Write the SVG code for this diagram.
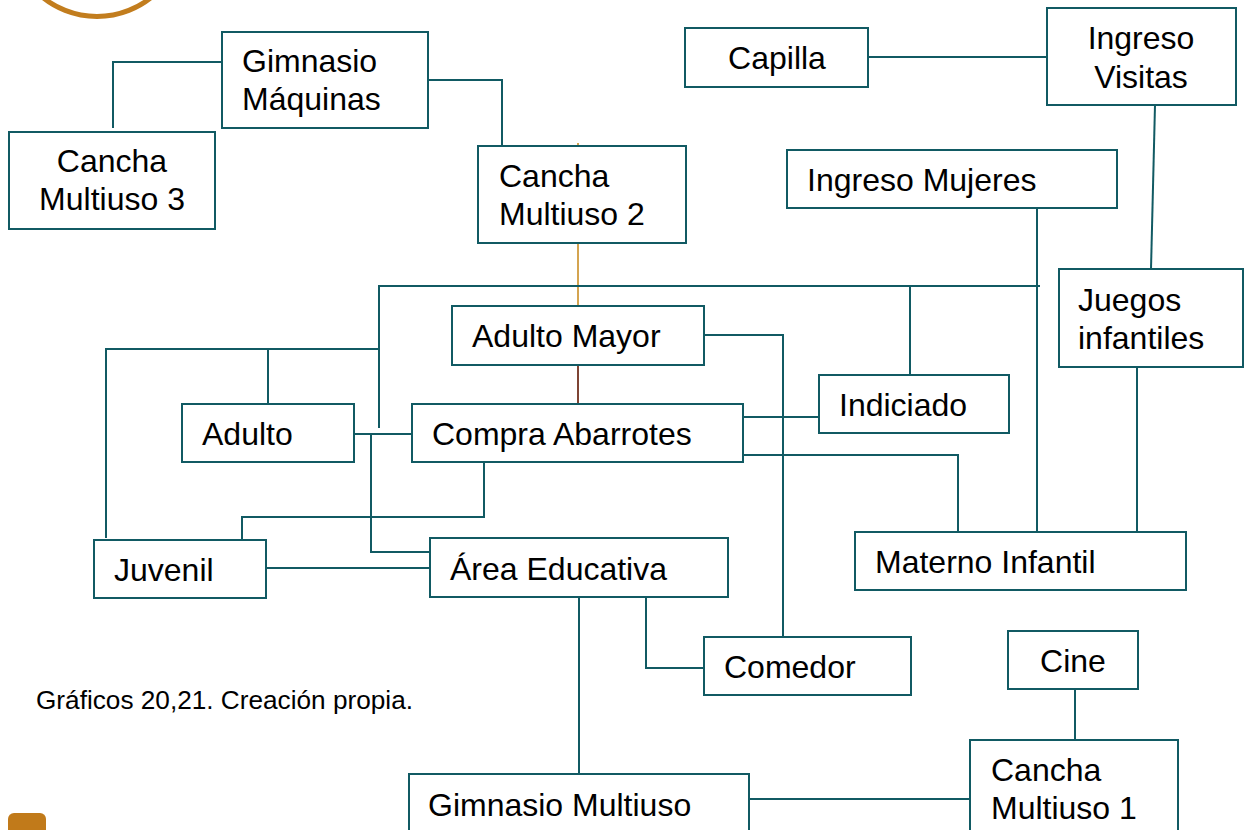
<svg xmlns="http://www.w3.org/2000/svg" width="1251" height="830" viewBox="0 0 1251 830">
<style>
.n rect{fill:#fff;stroke:#115A63;stroke-width:2}
.n text,.cap{font-family:"Liberation Sans",Arial,sans-serif;fill:#000}
.n text{font-size:32px}
.c path{fill:none;stroke:#115A63;stroke-width:2}
.cap{font-size:26.2px}
</style>
<rect width="1251" height="830" fill="#fff"/>
<circle cx="97" cy="-70" r="86.5" fill="none" stroke="#C27D1E" stroke-width="5"/>
<rect x="8" y="813" width="38" height="30" rx="6" fill="#C17A1A"/>
<g class="c">
<path d="M222 62H113V128"/>
<path d="M428 80H502V146"/>
<path d="M578 143V306" style="stroke:#D4A450"/>
<path d="M578 365V404" style="stroke:#7E4434"/>
<path d="M379 428V286H1040"/>
<path d="M910 286V375"/>
<path d="M379 349H106V538"/>
<path d="M268 349V404"/>
<path d="M354 434H412"/>
<path d="M371 434V552H430"/>
<path d="M484 462V517H242V540"/>
<path d="M266 568H430"/>
<path d="M704 335H783V637"/>
<path d="M743 417H819"/>
<path d="M743 455H958V532"/>
<path d="M1037 208V532"/>
<path d="M1137 367V532"/>
<path d="M1155 105L1151 269"/>
<path d="M868 57H1047"/>
<path d="M579 597V774"/>
<path d="M646 597V668H704"/>
<path d="M1075 689V740"/>
<path d="M749 799H970"/>
</g>
<g id="gimnasio-maquinas" class="n"><rect x="222" y="32" width="206" height="96"/><text x="242" y="72">Gimnasio</text><text x="242" y="110">Máquinas</text></g>
<g id="cancha3" class="n"><rect x="9" y="132" width="206" height="97"/><text x="112" y="172" text-anchor="middle">Cancha</text><text x="112" y="210" text-anchor="middle">Multiuso 3</text></g>
<g id="cancha2" class="n"><rect x="478" y="146" width="208" height="97"/><text x="499" y="187">Cancha</text><text x="499" y="225">Multiuso 2</text></g>
<g id="capilla" class="n"><rect x="685" y="28" width="183" height="59"/><text x="777" y="69" text-anchor="middle">Capilla</text></g>
<g id="ingreso-visitas" class="n"><rect x="1047" y="8" width="189" height="97"/><text x="1141" y="49" text-anchor="middle">Ingreso</text><text x="1141" y="88" text-anchor="middle">Visitas</text></g>
<g id="ingreso-mujeres" class="n"><rect x="787" y="150" width="330" height="58"/><text x="807" y="191">Ingreso Mujeres</text></g>
<g id="juegos" class="n"><rect x="1059" y="269" width="184" height="98"/><text x="1078" y="311">Juegos</text><text x="1078" y="349">infantiles</text></g>
<g id="adulto-mayor" class="n"><rect x="452" y="306" width="252" height="59"/><text x="472" y="347">Adulto Mayor</text></g>
<g id="indiciado" class="n"><rect x="819" y="375" width="190" height="58"/><text x="839" y="416">Indiciado</text></g>
<g id="adulto" class="n"><rect x="182" y="404" width="172" height="58"/><text x="202" y="445">Adulto</text></g>
<g id="compra" class="n"><rect x="412" y="404" width="331" height="58"/><text x="432" y="445">Compra Abarrotes</text></g>
<g id="juvenil" class="n"><rect x="94" y="540" width="172" height="58"/><text x="114" y="581">Juvenil</text></g>
<g id="area-educativa" class="n"><rect x="430" y="538" width="298" height="59"/><text x="450" y="580">Área Educativa</text></g>
<g id="materno" class="n"><rect x="855" y="532" width="331" height="58"/><text x="875" y="573">Materno Infantil</text></g>
<g id="comedor" class="n"><rect x="704" y="637" width="207" height="58"/><text x="724" y="678">Comedor</text></g>
<g id="cine" class="n"><rect x="1008" y="631" width="130" height="58"/><text x="1073" y="672" text-anchor="middle">Cine</text></g>
<g id="cancha1" class="n"><rect x="970" y="740" width="208" height="97"/><text x="991" y="781">Cancha</text><text x="991" y="819">Multiuso 1</text></g>
<g id="gimnasio-multiuso" class="n"><rect x="409" y="774" width="340" height="62"/><text x="428" y="816">Gimnasio Multiuso</text></g>
<text class="cap" x="36" y="709">Gráficos 20,21. Creación propia.</text>
</svg>
